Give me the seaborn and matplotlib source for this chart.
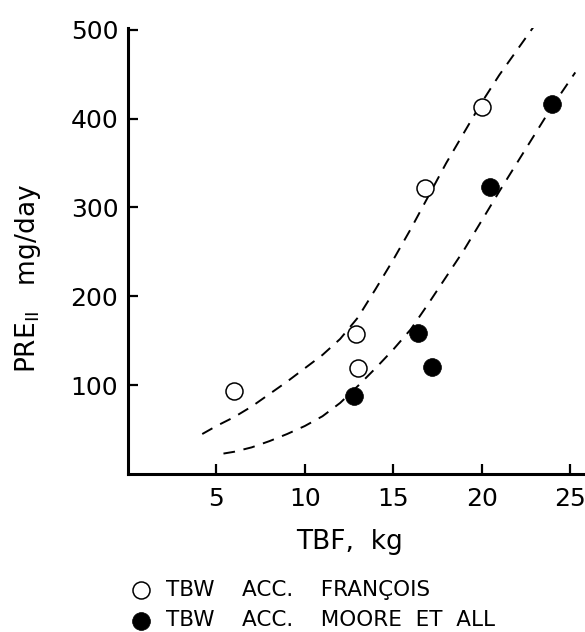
import matplotlib
matplotlib.use("Agg")
import matplotlib.pyplot as plt
import seaborn as sns
import pandas as pd

# ---- data ----
francois_x = [6.0, 12.9, 13.0, 16.8, 20.0]
francois_y = [93, 158, 119, 322, 413]
moore_x = [12.8, 16.4, 17.2, 20.5, 24.0]
moore_y = [88, 159, 120, 323, 416]

upper_curve_x = [4.2, 5, 6, 7, 8, 9, 10, 11, 12, 13, 14, 15, 16, 17, 18, 19, 20, 21, 22, 23]
upper_curve_y = [45, 54, 64, 76, 90, 104, 119, 134, 152, 176, 208, 241, 276, 313, 350, 384, 418, 449, 477, 505]
lower_curve_x = [5.4, 6, 7, 8, 9, 10, 11, 12, 13, 14, 15, 16, 17, 18, 19, 20, 21, 22, 23, 24, 25.3]
lower_curve_y = [23, 25, 30, 37, 45, 54, 65, 80, 99, 119, 140, 163, 192, 222, 252, 285, 318, 350, 382, 414, 452]

x_ticks = [5, 10, 15, 20, 25]
y_ticks = [100, 200, 300, 400, 500]
label_francois = "TBW    ACC.    FRANÇOIS"
label_moore = "TBW    ACC.    MOORE  ET  ALL"

sns.set_style("white")
plt.rcParams["font.family"] = ["DejaVu Sans"]
plt.rcParams["mathtext.fontset"] = "custom"
plt.rcParams["mathtext.rm"] = "DejaVu Sans"
plt.rcParams["text.color"] = "black"
plt.rcParams["axes.labelcolor"] = "black"

fig = plt.figure(figsize=(5.85, 6.32), dpi=100)
ax = fig.add_axes([128 / 585, 1 - 474 / 632, 1 - 128 / 585, (474 - 28) / 632])

df_f = pd.DataFrame({"x": francois_x, "y": francois_y})
df_m = pd.DataFrame({"x": moore_x, "y": moore_y})
up = pd.DataFrame({"x": upper_curve_x, "y": upper_curve_y})
lo = pd.DataFrame({"x": lower_curve_x, "y": lower_curve_y})

for c in (up, lo):
    sns.lineplot(data=c, x="x", y="y", ax=ax, color="black", lw=1.4,
                 linestyle=(0, (6, 4.5)), sort=False, estimator=None)

sns.scatterplot(data=df_f, x="x", y="y", ax=ax, s=150, marker="o",
                facecolor="white", edgecolor="black", linewidth=1.1,
                label=label_francois, zorder=3)
sns.scatterplot(data=df_m, x="x", y="y", ax=ax, s=165, marker="o",
                color="black", edgecolor="black", linewidth=0.5,
                label=label_moore, zorder=3)

ax.set_xlim(0, 25.85)
ax.set_ylim(0, 502)
ax.set_xticks(x_ticks)
ax.set_yticks(y_ticks)
ax.set_xticklabels([str(t) for t in x_ticks])
ax.set_yticklabels([str(t) for t in y_ticks])
ax.tick_params(axis="both", direction="in", length=7, width=1.6,
               labelsize=18, color="black", labelcolor="black",
               bottom=True, left=True)
ax.tick_params(axis="x", pad=9)
ax.tick_params(axis="y", pad=7)

for side in ("top", "right"):
    ax.spines[side].set_visible(False)
for side in ("left", "bottom"):
    ax.spines[side].set_linewidth(2.2)
    ax.spines[side].set_color("black")

ax.set_xlabel("TBF,  kg", fontsize=19)
ax.xaxis.set_label_coords((350 - 128) / 457, -(542 - 474) / 446)
ax.set_ylabel(r"PRE$_{\mathrm{II}}$   mg/day", fontsize=19)
ax.yaxis.set_label_coords(-(128 - 28) / 457, (474 - 278) / 446)
ax.xaxis.label.set_va("center")
ax.yaxis.label.set_va("center")

h, l = ax.get_legend_handles_labels()
ax.get_legend().remove()
fig.legend(h, l, loc="center left", bbox_to_anchor=(130 / 585, 1 - 605 / 632),
           frameon=False, fontsize=15.5, handletextpad=0.65, labelspacing=0.5,
           borderaxespad=0, borderpad=0, handlelength=1.0)

fig.savefig("out.png", dpi=100)
